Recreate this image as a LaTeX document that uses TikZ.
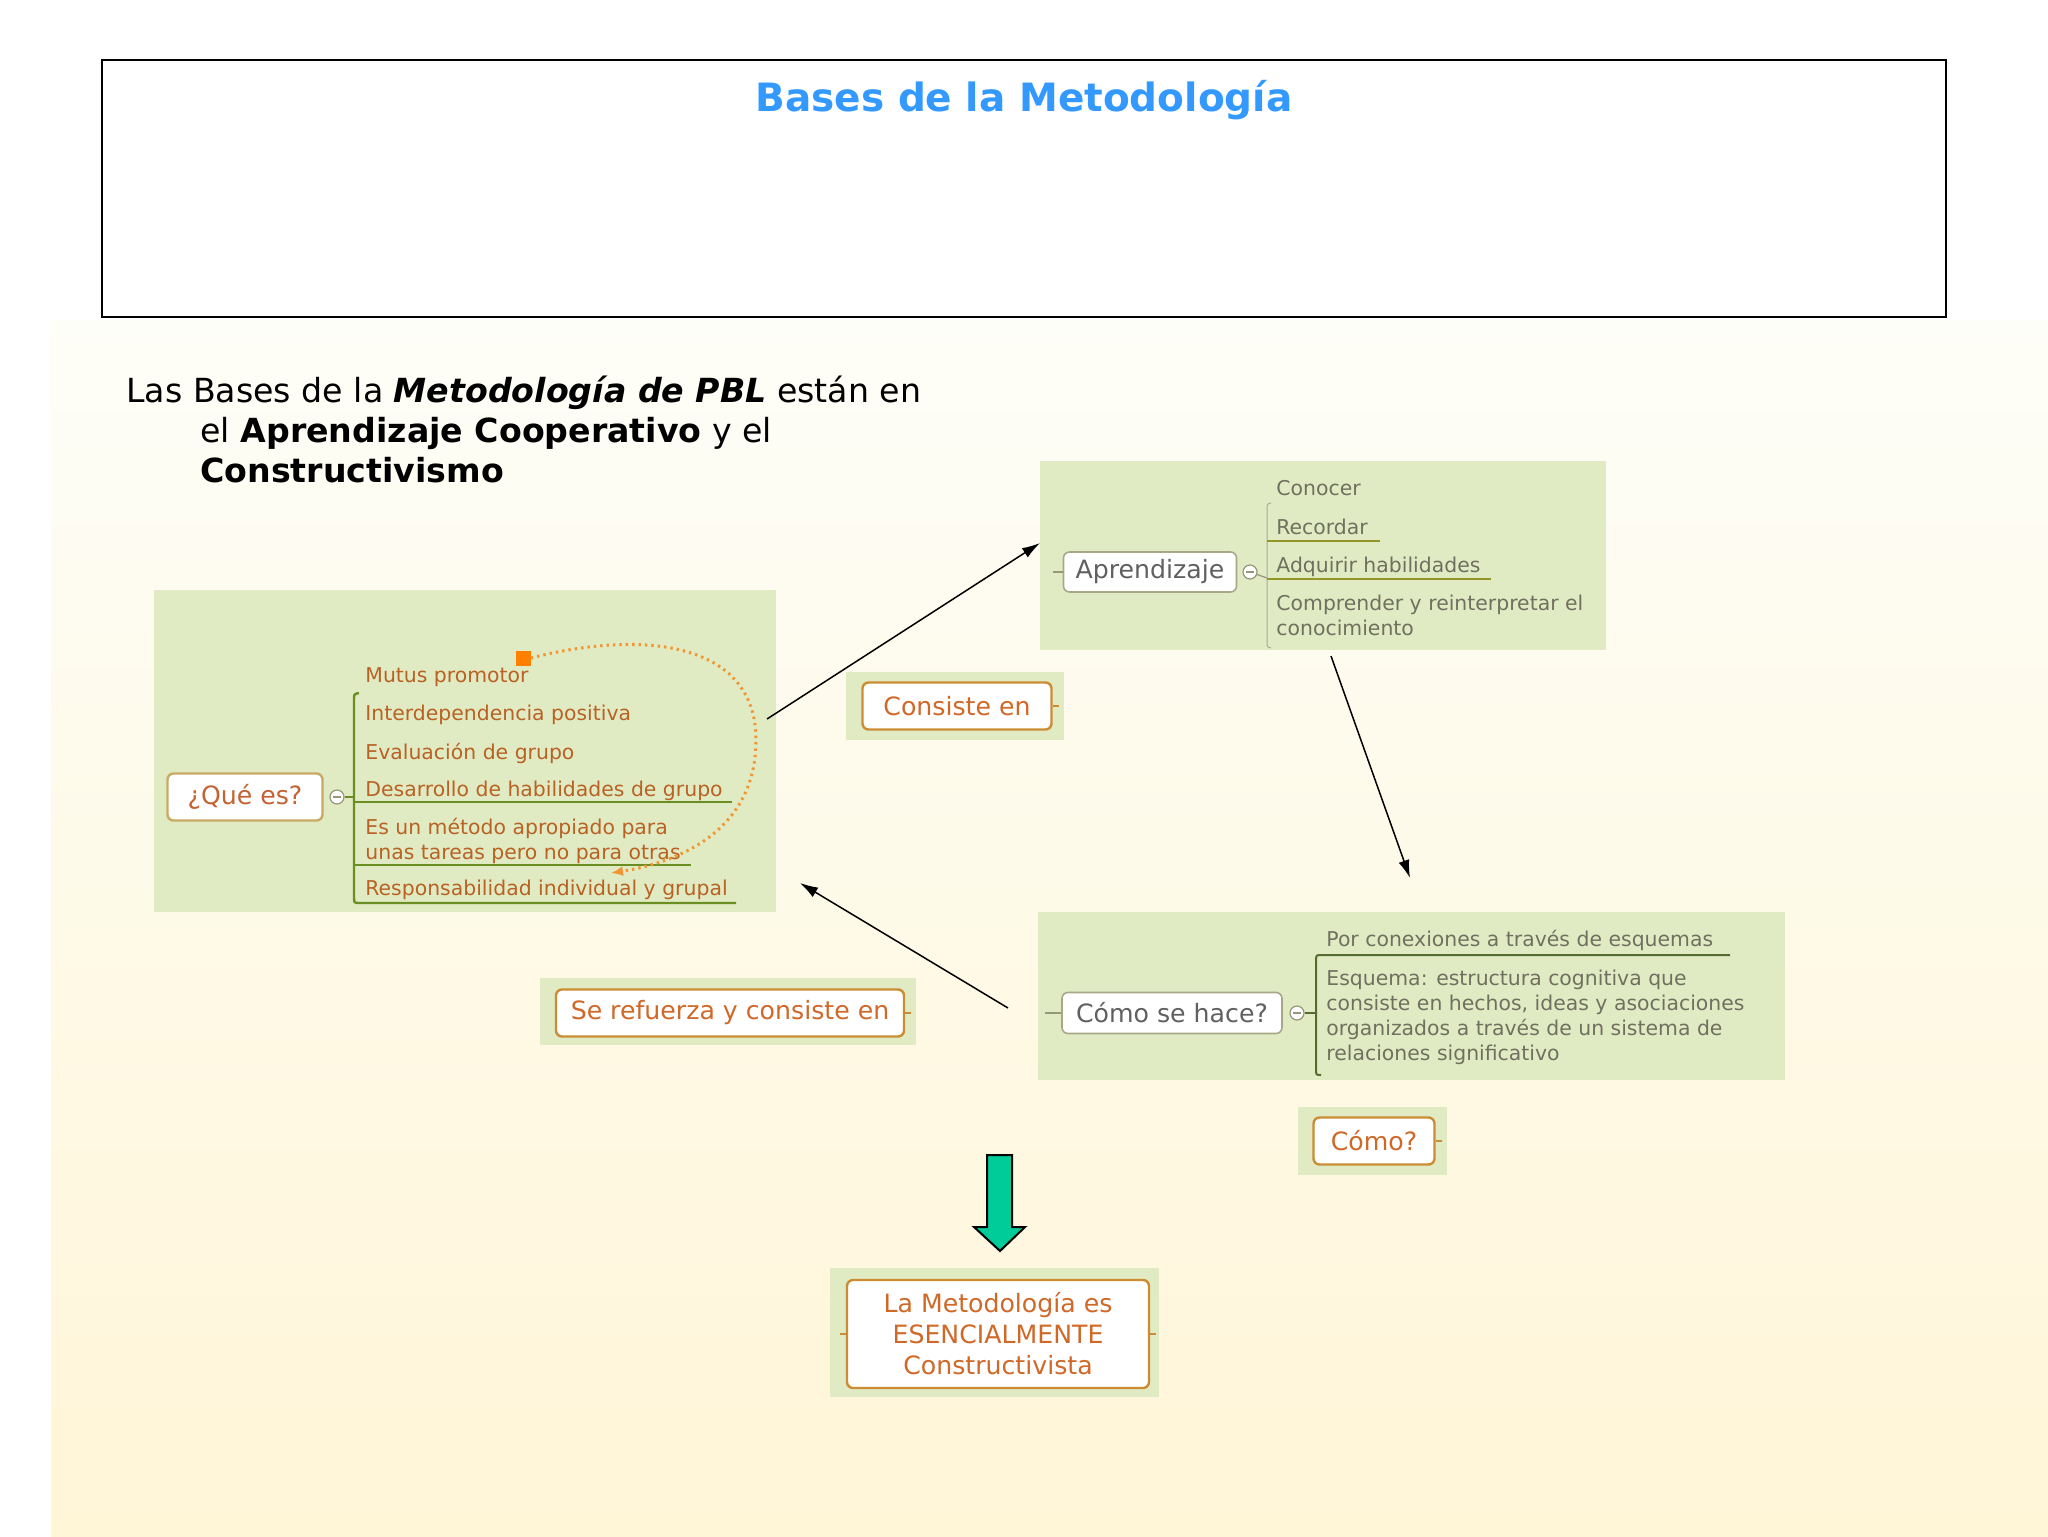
\documentclass[tikz,border=0pt]{standalone}
\usepackage{fontspec}
\setmainfont{DejaVu Sans}
\usetikzlibrary{arrows.meta}

\definecolor{r51g153b255}{RGB}{51,153,255}
\definecolor{r225g235b195}{RGB}{225,235,195}
\definecolor{r254g254g248}{RGB}{254,254,248}
\definecolor{r255g245b215}{RGB}{255,245,215}
\definecolor{r208g104b40}{RGB}{208,104,40}
\definecolor{r184g98b36}{RGB}{184,98,36}
\definecolor{r196g98b52}{RGB}{196,98,52}
\definecolor{r204g140b51}{RGB}{204,140,51}
\definecolor{r200g170b100}{RGB}{200,170,100}
\definecolor{r168g168b136}{RGB}{168,168,136}
\definecolor{r150g150b120}{RGB}{150,150,120}
\definecolor{r96g96b96}{RGB}{96,96,96}
\definecolor{r112g112b96}{RGB}{112,112,96}
\definecolor{r107g142b35}{RGB}{107,142,35}
\definecolor{r150g150b40}{RGB}{150,150,40}
\definecolor{r85g107b47}{RGB}{85,107,47}
\definecolor{r170g170b150}{RGB}{170,170,150}
\definecolor{r255g128b0}{RGB}{255,128,0}
\definecolor{r240g150b50}{RGB}{240,150,50}
\definecolor{r0g204b153}{RGB}{0,204,153}

\begin{document}
\begin{tikzpicture}[x=0.5pt,y=-0.5pt,
    mapbg/.style={fill=r225g235b195,draw=none},
    mapitem/.style={anchor=base west,inner sep=0pt,align=left,
      font=\fontsize{10.2}{12.5}\selectfont},
    topic/.style={fill=white,rounded corners=3pt,inner sep=0pt,align=center,
      font=\fontsize{12.6}{15.5}\selectfont},
    orangetopic/.style={topic,draw=r204g140b51,line width=1.2pt,text=r208g104b40},
    graytopic/.style={topic,draw=r168g168b136,line width=0.8pt,text=r96g96b96},
    foldmark/.style={circle,draw=r150g150b120,fill=white,line width=0.6pt,
      minimum size=7pt,inner sep=0pt,
      path picture={\draw[line width=0.7pt]
        ([xshift=-2pt]path picture bounding box.center) --
        ([xshift=2pt]path picture bounding box.center);}},
    linkarrow/.style={-{Latex[length=9pt,width=5.5pt]},line width=0.75pt}]

% Page and background
\useasboundingbox (0,0) rectangle (2048,1536);
\fill[white] (0,0) rectangle (2048,1536);
\shade[top color=r254g254g248,bottom color=r255g245b215] (51,320) rectangle (2048,1536);

% Title frame
\draw[line width=1pt] (102,60) rectangle (1946,317);
\draw (1024,112) node (title) [anchor=base,text=r51g153b255,
  font=\fontsize{19.5}{24}\selectfont\bfseries] {Bases de la Metodología};

% Intro text (base = last line)
\draw (126,482) node (intro) [anchor=base west,align=left,inner sep=0pt,
  font=\fontsize{16.6}{20}\selectfont]
  {Las Bases de la \textbf{\textit{Metodología de PBL}} están en\\
   \hspace*{37pt}el \textbf{Aprendizaje Cooperativo} y el\\
   \hspace*{37pt}\textbf{Constructivismo}};

% Map: Que es?
\fill[mapbg] (154,590) rectangle (776,912);
\node (que) [topic,draw=r200g170b100,line width=1.2pt,text=r196g98b52,
  minimum width=77.5pt,minimum height=23.5pt] at (245,797) {¿Qué es?};
\node (quefold) [foldmark] at (337,797) {};
\coordinate (quebrace) at (354,797);
\draw[line width=1.2pt,r107g142b35] (quefold) -- (quebrace);
\draw[line width=1.2pt,r107g142b35] (359,693) .. controls (354,694) .. (354,700)
  -- (354,897) .. controls (354,903) .. (360,903) -- (736,903);
\draw[line width=1.2pt,r107g142b35] (354,802) -- (732,802);
\draw[line width=1.2pt,r107g142b35] (354,865) -- (691,865);
\draw (365,682) node (mutus) [mapitem,text=r184g98b36] {Mutus promotor};
\draw (365,720) node (interdep) [mapitem,text=r184g98b36] {Interdependencia positiva};
\draw (365,759) node (evaluacion) [mapitem,text=r184g98b36] {Evaluación de grupo};
\draw (365,796) node (desarrollo) [mapitem,text=r184g98b36] {Desarrollo de habilidades de grupo};
\draw (365,859) node (metodo) [mapitem,text=r184g98b36]
  {Es un método apropiado para\\unas tareas pero no para otras};
\draw (365,895) node (respons) [mapitem,text=r184g98b36] {Responsabilidad individual y grupal};

% Dotted link
\node (mutuslink) [fill=r255g128b0,minimum size=7.5pt,inner sep=0pt] at (523,658) {};
\coordinate (responsdot) at (611,873);
\draw[r240g150b50,line width=1.5pt,dash pattern=on 1.2pt off 2pt,
  -{Latex[length=6pt,width=5pt]}] (mutuslink.east)
  .. controls (640,630) and (756,640) .. (756,740)
  .. controls (756,830) and (680,862) .. (responsdot);

% Map: Aprendizaje
\fill[mapbg] (1040,461) rectangle (1606,650);
\node (aprend) [graytopic,minimum width=86.5pt,minimum height=20pt] at (1150,572) {Aprendizaje};
\node (aprendfold) [foldmark] at (1250,572) {};
\coordinate (aprendstub) at (1053,572);
\coordinate (aprendbrace) at (1267,578);
\draw[r150g150b120,line width=0.6pt] (aprendstub) -- (aprend.west);
\draw[r150g150b120,line width=0.6pt] (aprendfold) -- (aprendbrace);
\draw[r170g170b150,line width=0.5pt] (1271,503) .. controls (1267,504) .. (1267,509)
  -- (1267,642) .. controls (1267,647) .. (1271,648);
\draw[line width=1.2pt,r150g150b40] (1267,541) -- (1380,541);
\draw[line width=1.2pt,r150g150b40] (1267,579) -- (1491,579);
\draw (1276,495) node (conocer) [mapitem,text=r112g112b96] {Conocer};
\draw (1276,534) node (recordar) [mapitem,text=r112g112b96] {Recordar};
\draw (1276,572) node (adquirir) [mapitem,text=r112g112b96] {Adquirir habilidades};
\draw (1276,635) node (comprender) [mapitem,text=r112g112b96]
  {Comprender y reinterpretar el\\conocimiento};

% Map: Como se hace?
\fill[mapbg] (1038,912) rectangle (1785,1080);
\node (como) [graytopic,minimum width=110pt,minimum height=20.5pt] at (1172,1013) {Cómo se hace?};
\node (comofold) [foldmark] at (1297,1013) {};
\coordinate (comostub) at (1045,1013);
\coordinate (comobrace) at (1316,1013);
\draw[r150g150b120,line width=0.6pt] (comostub) -- (como.west);
\draw[r85g107b47,line width=1pt] (comofold) -- (comobrace);
\draw[r85g107b47,line width=1pt] (1730,955) -- (1322,955) .. controls (1316,955) .. (1316,961)
  -- (1316,1069) .. controls (1316,1075) .. (1321,1075);
\draw (1326,946) node (conexiones) [mapitem,text=r112g112b96] {Por conexiones a través de esquemas};
\draw (1326,1060) node (esquema) [mapitem,text=r112g112b96]
  {Esquema: estructura cognitiva que\\consiste en hechos, ideas y asociaciones\\organizados a través de un sistema de\\relaciones significativo};

% Link labels
\fill[mapbg] (846,672) rectangle (1064,740);
\node (consiste) [orangetopic,minimum width=94.5pt,minimum height=23.5pt] at (957,706) {Consiste en};
\draw[r204g140b51,line width=0.6pt] (consiste.east) -- ++(6,0);

\fill[mapbg] (540,978) rectangle (916,1045);
\node (refuerza) [orangetopic,minimum width=174pt,minimum height=23.5pt] at (730,1013) {Se refuerza y consiste en};
\draw[r204g140b51,line width=0.6pt] (refuerza.east) -- ++(6,0);

\fill[mapbg] (1298,1107) rectangle (1447,1175);
\node (comoq) [orangetopic,minimum width=60.5pt,minimum height=23.5pt] at (1374,1141) {Cómo?};
\draw[r204g140b51,line width=0.6pt] (comoq.east) -- ++(6,0);

\fill[mapbg] (830,1268) rectangle (1159,1397);
\node (esencial) [orangetopic,minimum width=151pt,minimum height=54pt] at (998,1334)
  {La Metodología es\\ESENCIALMENTE\\Constructivista};
\draw[r204g140b51,line width=0.6pt] (esencial.east) -- ++(6,0);
\draw[r204g140b51,line width=0.6pt] (esencial.west) -- ++(-6,0);

% Green block arrow
\draw[fill=r0g204b153,line width=1pt] (987,1155) -- (1012,1155) -- (1012,1227)
  -- (1025,1227) -- (1000,1251) -- (974,1227) -- (987,1227) -- cycle;

% Links between the maps
\coordinate (queout) at (767,719);
\coordinate (aprendin) at (1040,543);
\coordinate (aprendout) at (1331,656);
\coordinate (comoin) at (1410,878);
\coordinate (comoout) at (1008,1008);
\coordinate (quein) at (800,883);
\draw[linkarrow] (queout) -- (aprendin);
\draw[linkarrow] (aprendout) -- (comoin);
\draw[linkarrow] (comoout) -- (quein);

\end{tikzpicture}
\end{document}
